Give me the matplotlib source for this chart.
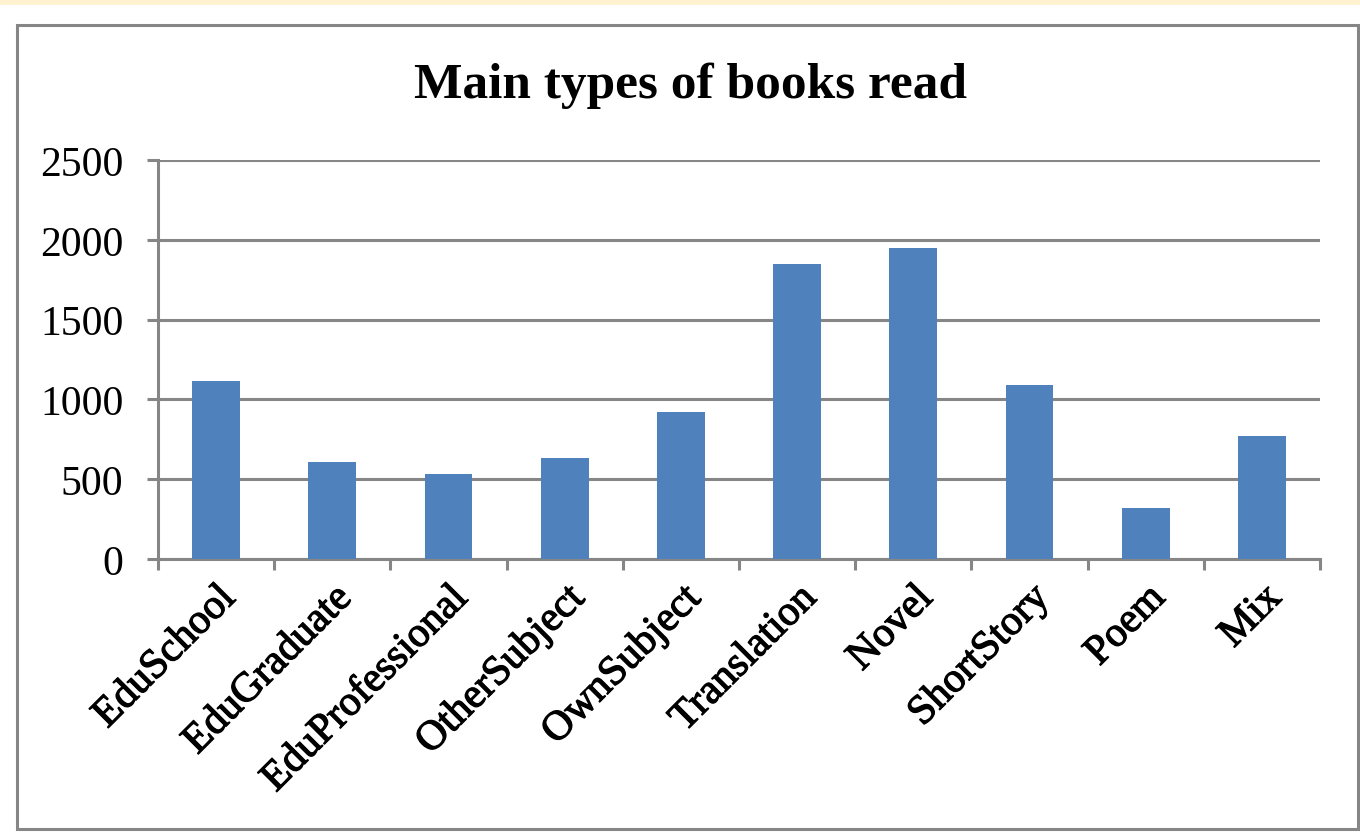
import matplotlib.pyplot as plt
import matplotlib.patheffects as pe
import matplotlib.transforms as mtransforms
from matplotlib.patches import Rectangle
import numpy as np

# data
categories = ['EduSchool', 'EduGraduate', 'EduProfessional', 'OtherSubject',
              'OwnSubject', 'Translation', 'Novel', 'ShortStory', 'Poem', 'Mix']
counts = [1115, 608, 533, 633, 921, 1848, 1949, 1090, 320, 771]
y_ticks = [0, 500, 1000, 1500, 2000, 2500]

W, H = 1360, 837
grey = '#868686'
serif = ['Liberation Serif', 'DejaVu Serif']

fig = plt.figure(figsize=(W / 100, H / 100), dpi=100)
fig.patch.set_facecolor('white')

# cream strip at the very top and the outer chart frame
fig.patches.append(Rectangle((0, 1 - 6 / H), 1, 6 / H, transform=fig.transFigure,
                             facecolor='#FEF2D0', edgecolor='none', zorder=0))
fig.patches.append(Rectangle((17 / W, 1 - 830 / H), (1358 - 17) / W, (830 - 26) / H,
                             transform=fig.transFigure, facecolor='white',
                             edgecolor=grey, linewidth=2.2, zorder=0))

ax = fig.add_axes([158 / W, 1 - 560 / H, (1320 - 158) / W, (560 - 161) / H])
ax.set_zorder(2)
ax.set_facecolor('none')

x = np.arange(len(categories))
ax.bar(x, counts, width=0.41, color='#4F81BD', zorder=3)

ax.set_xlim(-0.5, len(categories) - 0.5)
ax.set_ylim(0, 2500)
ax.set_yticks(y_ticks)
ax.set_yticklabels([str(v) for v in y_ticks], fontsize=30, family=serif)
ax.yaxis.grid(True, color=grey, linewidth=2.2, zorder=1)
ax.set_axisbelow(True)

# category labels at bar centres, tick marks at the boundaries
ax.set_xticks(x)
ax.set_xticklabels(categories, rotation=45, ha='right', rotation_mode='anchor',
                   fontsize=30, family=serif)
shift = mtransforms.ScaledTranslation(-6 / 100, -3 / 100, fig.dpi_scale_trans)
for lbl in ax.get_xticklabels():
    lbl.set_path_effects([pe.withStroke(linewidth=0.9, foreground='black')])
    lbl.set_transform(lbl.get_transform() + shift)
ax.tick_params(axis='x', which='major', length=0, pad=14)
ax.set_xticks(np.arange(-0.5, len(categories)), minor=True)
ax.tick_params(axis='x', which='minor', length=8, width=2.2, color=grey)
ax.tick_params(axis='y', length=8, width=2.2, color=grey, pad=17)

for side in ['top', 'right']:
    ax.spines[side].set_visible(False)
for side in ['left', 'bottom']:
    ax.spines[side].set_color(grey)
    ax.spines[side].set_linewidth(2.2)

fig.text(690 / W, 1 - 86 / H, 'Main types of books read', ha='center', va='center',
         fontsize=37, fontweight='bold', family=serif, zorder=3)

fig.savefig('out.png', dpi=100)
